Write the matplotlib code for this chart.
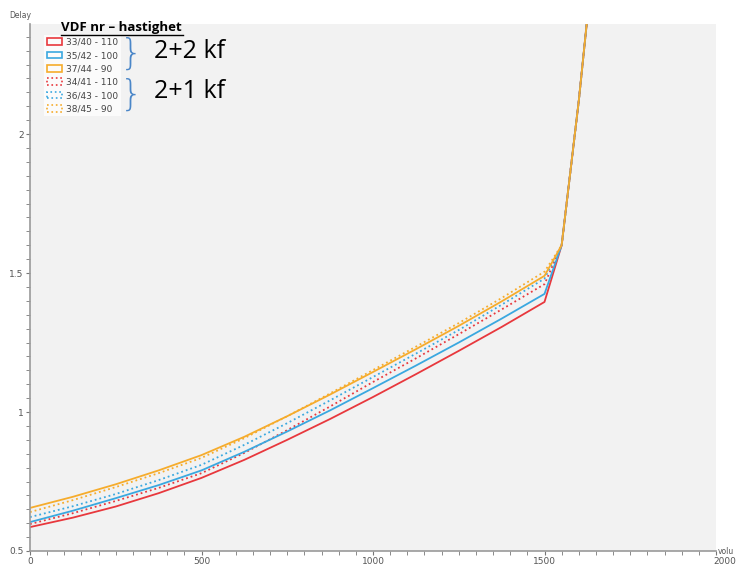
import matplotlib.pyplot as plt
from matplotlib.patches import Patch
from matplotlib.lines import Line2D
from matplotlib.ticker import MultipleLocator

# Data
volume = [0, 125, 250, 375, 500, 625, 750, 875, 1000, 1125, 1250, 1375, 1500,
          1550, 1600, 1650]
tail = [1.60, 2.12, 2.72]  # shared values at 1550, 1600, 1650

red_solid = [0.586, 0.620, 0.660, 0.708, 0.763, 0.828, 0.900, 0.975, 1.054,
             1.136, 1.220, 1.306, 1.396] + tail
blue_solid = [0.604, 0.645, 0.690, 0.737, 0.790, 0.857, 0.930, 1.006, 1.086,
              1.167, 1.250, 1.336, 1.425] + tail
orange_solid = [0.655, 0.695, 0.740, 0.790, 0.845, 0.911, 0.985, 1.063, 1.144,
                1.226, 1.310, 1.398, 1.490] + tail
red_dotted = [0.597, 0.636, 0.680, 0.727, 0.780, 0.853, 0.935, 1.020, 1.108,
              1.193, 1.280, 1.369, 1.460] + tail
blue_dotted = [0.622, 0.661, 0.705, 0.755, 0.810, 0.882, 0.960, 1.042, 1.126,
               1.210, 1.295, 1.386, 1.480] + tail
orange_dotted = [0.640, 0.683, 0.730, 0.780, 0.835, 0.906, 0.985, 1.067, 1.151,
                 1.235, 1.320, 1.410, 1.505] + tail

labels_solid = ['33/40 - 110', '35/42 - 100', '37/44 - 90']
labels_dotted = ['34/41 - 110', '36/43 - 100', '38/45 - 90']
xticks = [0, 500, 1000, 1500, 2000]

RED = '#e8383d'
BLUE = '#3aa8e0'
ORANGE = '#f6ac2c'

fig = plt.figure(figsize=(7.37, 5.65), dpi=100)
ax = fig.add_axes([30 / 737, 1 - 551 / 565, 686 / 737, 527 / 565])
ax.set_facecolor('#f2f2f2')

# dotted first, solid on top
ax.plot(volume, red_dotted, ':', color=RED, lw=1.3)
ax.plot(volume, blue_dotted, ':', color=BLUE, lw=1.3)
ax.plot(volume, orange_dotted, ':', color=ORANGE, lw=1.3)
ax.plot(volume, red_solid, '-', color=RED, lw=1.3)
ax.plot(volume, blue_solid, '-', color=BLUE, lw=1.3)
ax.plot(volume, orange_solid, '-', color=ORANGE, lw=1.3)

ax.set_xlim(0, 2000)
ax.set_ylim(0.5, 2.396)
ax.set_xticks(xticks)
ax.set_xticklabels([str(v) for v in xticks[:-1]] + [''])
ax.xaxis.set_minor_locator(MultipleLocator(50))
ax.set_yticks([0.5, 1, 1.5, 2])
ax.set_yticklabels(['0.5', '1', '1.5', '2'])
ax.yaxis.set_minor_locator(MultipleLocator(0.05))

for s in ['top', 'right']:
    ax.spines[s].set_visible(False)
for s in ['left', 'bottom']:
    ax.spines[s].set_color('#9a9a9a')
    ax.spines[s].set_linewidth(1.2)
ax.tick_params(which='both', direction='out', length=3, color='#777777',
               labelsize=6.5, labelcolor='#555555', pad=1.5)

fig.text(9 / 737, 1 - 15 / 565, 'Delay', fontsize=5.5, color='#555555', va='center')
fig.text(718 / 737, 1 - 552 / 565, 'volu', fontsize=5.5, color='#555555', va='center')
fig.text(725 / 737, 1 - 561 / 565, str(xticks[-1]), fontsize=6.5, color='#555555',
         va='center', ha='center')

# legend
handles = []
for c in [RED, BLUE, ORANGE]:
    handles.append(Patch(facecolor='none', edgecolor=c, linewidth=1.2))
for c in [RED, BLUE, ORANGE]:
    handles.append(Patch(facecolor='none', edgecolor=c, linewidth=1.2, linestyle=':'))
leg = ax.legend(handles, labels_solid + labels_dotted, loc='upper left',
                bbox_to_anchor=(44 / 737, 1 - 35 / 565), bbox_transform=fig.transFigure,
                fontsize=6.5, handlelength=1.7, handleheight=0.75, labelspacing=0.48,
                handletextpad=0.4, borderpad=0.3, borderaxespad=0, frameon=True,
                fancybox=False, framealpha=0.75, edgecolor='none', facecolor='white')
for t in leg.get_texts():
    t.set_color('#444444')

# annotation title with underline
fig.text(61 / 737, 1 - 28 / 565, 'VDF nr – hastighet', fontsize=9.5,
         fontweight='bold', va='center', ha='left', family='Open Sans')
fig.add_artist(Line2D([61 / 737, 183 / 737], [1 - 35 / 565, 1 - 35 / 565],
                      color='black', lw=1, transform=fig.transFigure))

# braces and group labels
fig.text(131 / 737, 1 - 54 / 565, '}', fontsize=26, color='#4a86c8',
         va='center', ha='center', family='DejaVu Sans', fontweight='light')
fig.text(131 / 737, 1 - 95 / 565, '}', fontsize=26, color='#4a86c8',
         va='center', ha='center', family='DejaVu Sans', fontweight='light')
fig.text(154 / 737, 1 - 51 / 565, '2+2 kf', fontsize=18, va='center', ha='left',
         family='Open Sans')
fig.text(154 / 737, 1 - 91 / 565, '2+1 kf', fontsize=18, va='center', ha='left',
         family='Open Sans')

fig.savefig('out.png', dpi=100)
